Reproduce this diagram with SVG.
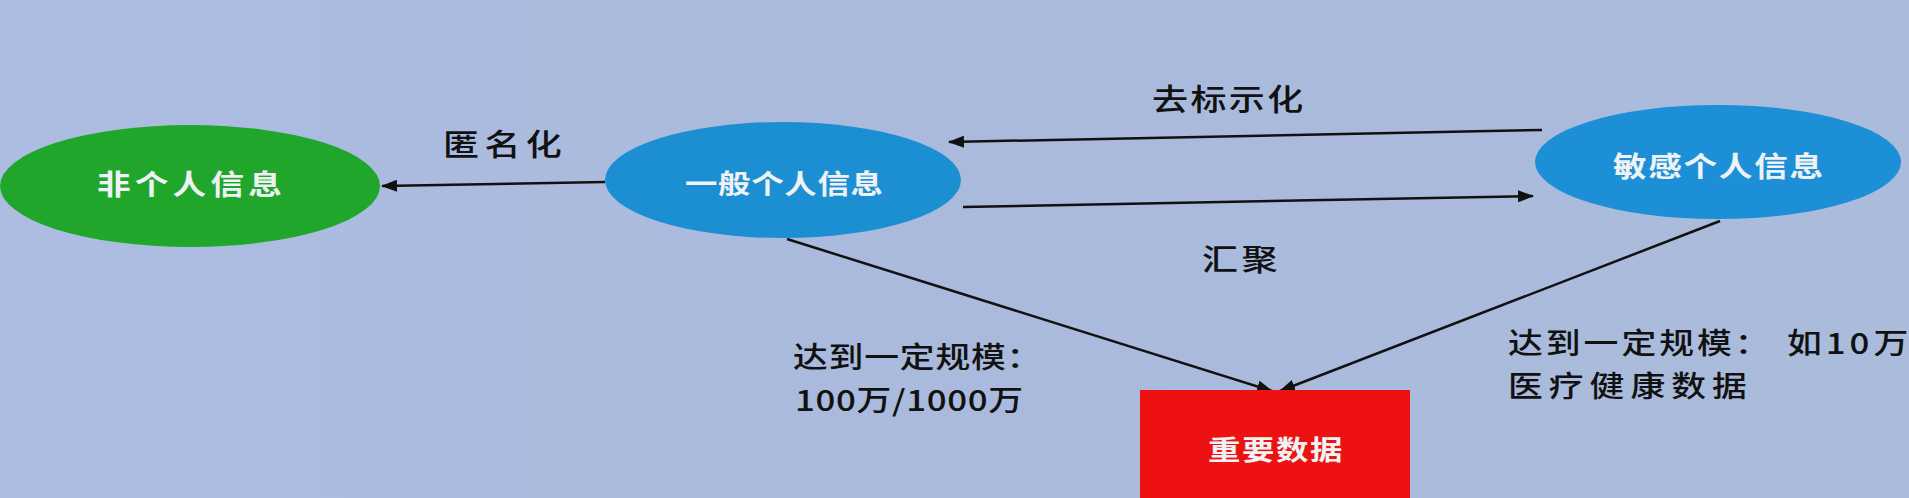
<svg xmlns="http://www.w3.org/2000/svg" width="1909" height="498" viewBox="0 0 1909 498">
  <defs>
    <linearGradient id="bg" x1="0" y1="0" x2="1" y2="0">
      <stop offset="0" stop-color="#adbde2"/>
      <stop offset="0.5" stop-color="#a9badc"/>
      <stop offset="1" stop-color="#aabbdc"/>
    </linearGradient>
    <marker id="arrow" markerUnits="userSpaceOnUse" markerWidth="16" markerHeight="12" refX="15" refY="6" orient="auto">
      <path d="M0,0 L16,6 L0,12 Z" fill="#111"/>
    </marker>
    <style>
      .node-text { font-family: "Noto Sans CJK SC", "Noto Sans", sans-serif; font-size: 28px; font-weight: bold; fill: #eef2f4; dominant-baseline: central; }
      .label { font-family: "Noto Sans CJK SC", "Noto Sans", sans-serif; font-size: 30px; font-weight: 500; fill: #111; dominant-baseline: central; }
      .label-sm { font-family: "Noto Sans CJK SC", "Noto Sans", sans-serif; font-size: 29px; font-weight: 500; fill: #111; dominant-baseline: central; }
      .conn { stroke: #111; stroke-width: 2.5; fill: none; marker-end: url(#arrow); }
    </style>
  </defs>
  <rect x="0" y="0" width="1909" height="498" fill="url(#bg)"/>

  <g id="connectors">
    <line class="conn" x1="605" y1="182" x2="382" y2="186"/>
    <line class="conn" x1="1542" y1="130" x2="949" y2="142"/>
    <line class="conn" x1="963" y1="207" x2="1533" y2="196"/>
    <line class="conn" x1="787" y1="239" x2="1272" y2="391"/>
    <line class="conn" x1="1720" y1="221" x2="1280" y2="391"/>
  </g>

  <g id="labels">
    <text class="label" transform="translate(443 142) scale(1.2 1)" textLength="99" lengthAdjust="spacing">匿名化</text>
    <text class="label" transform="translate(1152 97) scale(1.2 1)" textLength="126" lengthAdjust="spacing">去标示化</text>
    <text class="label" transform="translate(1202 257) scale(1.2 1)" textLength="63" lengthAdjust="spacing">汇聚</text>
    <text class="label-sm" transform="translate(793 355) scale(1.2 1)" textLength="207" lengthAdjust="spacing">达到一定规模：</text>
    <text class="label-sm" transform="translate(795 398) scale(1.2 1)" textLength="190" lengthAdjust="spacing">100万/1000万</text>
    <text class="label-sm" transform="translate(1508 341) scale(1.2 1)" textLength="218" lengthAdjust="spacing">达到一定规模：</text>
    <text class="label-sm" transform="translate(1787 341) scale(1.2 1)" textLength="101" lengthAdjust="spacing">如10万</text>
    <text class="label-sm" transform="translate(1508 384) scale(1.2 1)" textLength="199" lengthAdjust="spacing">医疗健康数据</text>
  </g>

  <g id="node-non-personal">
    <ellipse cx="190" cy="186" rx="190" ry="61" fill="#21a62c"/>
    <text class="node-text" transform="translate(97 183) scale(1.2 1)" textLength="154" lengthAdjust="spacing">非个人信息</text>
  </g>

  <g id="node-general-personal">
    <ellipse cx="783" cy="180" rx="178" ry="58" fill="#1c8fd3"/>
    <text class="node-text" style="font-size:27px" transform="translate(685 182) scale(1.2 1)" textLength="165" lengthAdjust="spacing">一般个人信息</text>
  </g>

  <g id="node-sensitive-personal">
    <ellipse cx="1718" cy="162" rx="183" ry="57" fill="#1c8fd6"/>
    <text class="node-text" transform="translate(1613 165) scale(1.2 1)" textLength="175" lengthAdjust="spacing">敏感个人信息</text>
  </g>

  <g id="node-important-data">
    <rect x="1140" y="390" width="270" height="120" fill="#ee1111"/>
    <text class="node-text" style="font-size:27px" transform="translate(1208 448) scale(1.2 1)" textLength="112" lengthAdjust="spacing">重要数据</text>
  </g>
</svg>
